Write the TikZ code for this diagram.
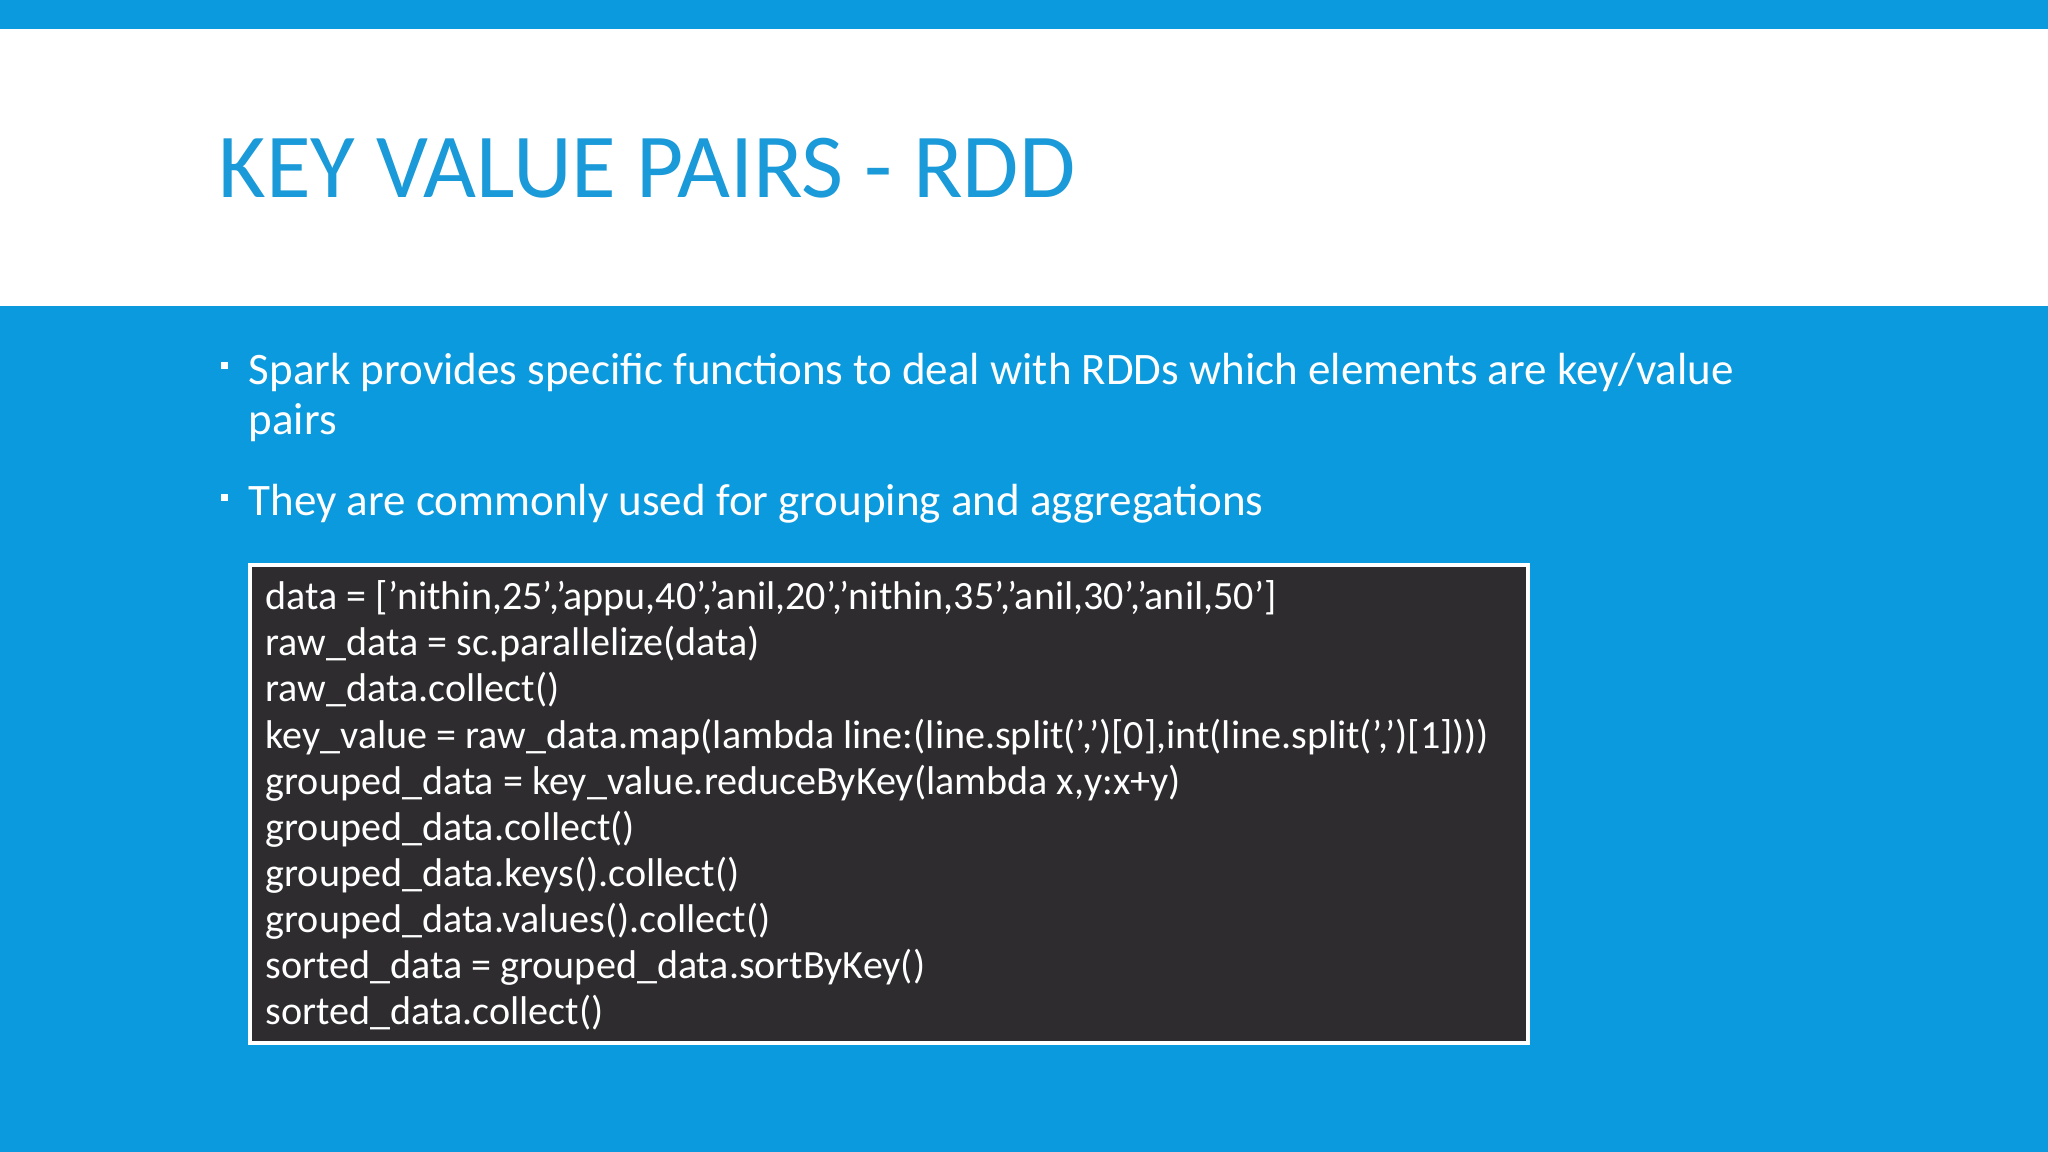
\documentclass[tikz,border=0pt]{standalone}
\usepackage{fontspec}
\setmainfont{Carlito}
\definecolor{bg}{HTML}{0A9ADD}
\definecolor{ttl}{HTML}{1A9AD8}
\definecolor{codebg}{HTML}{2E2C2F}
\begin{document}
\begin{tikzpicture}[x=0.01cm,y=-0.01cm,
  bul/.style={anchor=base west,text=white,inner sep=0,font=\fontsize{12.8}{15}\selectfont},
  code/.style={anchor=base west,text=white,inner sep=0,font=\fontsize{11.4}{14}\selectfont}]
\useasboundingbox (0,0) rectangle (2048,1152);
\fill[bg] (0,0) rectangle (2048,1152);
\fill[white] (0,29) rectangle (2048,306);
\node[anchor=base west,inner sep=0,text=ttl,font=\fontsize{26}{30}\selectfont] (title) at (218,198) {KEY VALUE PAIRS - RDD};
\fill[white] (221,362) rectangle (228,369);
\node[bul] (b1) at (248,385) {Spark provides specific functions to deal with RDDs which elements are key/value};
\node[bul] (b1b) at (248,435) {pairs};
\fill[white] (221,494) rectangle (228,501);
\node[bul] (b2) at (248,516) {They are commonly used for grouping and aggregations};
\draw[white,line width=4pt*0.2845,fill=codebg] (250,565) rectangle (1528,1043);
\foreach \t [count=\i] in {
 {data = ['nithin,25','appu,40','anil,20','nithin,35','anil,30','anil,50’]},
 {raw\_data = sc.parallelize(data)},
 {raw\_data.collect()},
 {key\_value = raw\_data.map(lambda line:(line.split(',')[0],int(line.split(',')[1])))},
 {grouped\_data = key\_value.reduceByKey(lambda x,y:x+y)},
 {grouped\_data.collect()},
 {grouped\_data.keys().collect()},
 {grouped\_data.values().collect()},
 {sorted\_data = grouped\_data.sortByKey()},
 {sorted\_data.collect()}}
 \node[code] (c\i) at (265,{610+46*(\i-1)}) {\t};
\end{tikzpicture}
\end{document}
